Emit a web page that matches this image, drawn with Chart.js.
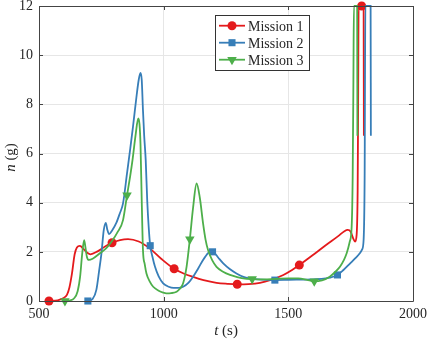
<!DOCTYPE html>
<html><head><meta charset="utf-8">
<script src="https://cdn.jsdelivr.net/npm/chart.js@4/dist/chart.umd.min.js"></script>
<style>html,body{margin:0;padding:0;background:#fff;} canvas{display:block;}</style>
</head><body>
<canvas id="c" width="427" height="341"></canvas>
<script>
// ---- tick labels / categories ----
const xTicks = [500, 1000, 1500, 2000];
const yTicks = [0, 2, 4, 6, 8, 10, 12];
const seriesNames = ['Mission 1', 'Mission 2', 'Mission 3'];
const xTitle = ['t', ' (s)'];
const yTitle = ['n', ' (g)'];

// ---- Mission 1 ----
const t1 = [540,575,595,612,622,632,643,652,664,680,695,706,735,765,793,825,857,900,944,990,1042,1080,1118,1160,1212,1255,1295,1340,1386,1430,1480,1515,1544,1600,1650,1700,1725,1738,1750,1760,1768,1774,1778,1780,1782,1794,1802,1803];
const n1 = [0,0.03,0.1,0.25,0.55,1.1,1.9,2.18,2.24,2.1,1.95,1.9,2.02,2.22,2.37,2.48,2.52,2.42,2.14,1.72,1.31,1.12,0.98,0.85,0.74,0.70,0.68,0.69,0.74,0.86,1.06,1.26,1.46,1.88,2.27,2.64,2.84,2.89,2.82,2.55,2.42,2.7,4.5,8,12,12,12,6.72];
const mk1T = [540,793,1042,1295,1544,1794];
const mk1N = [0,2.37,1.31,0.68,1.46,12];

// ---- Mission 2 ----
const t2 = [697,715,730,742,750,760,768,774,781,792,811,824,837,853,866,877,892,900,907,912,917,922,928,934,940,946,955,965,980,998,1020,1040,1060,1078,1100,1118,1140,1158,1178,1192,1200,1220,1239,1265,1292,1320,1346,1390,1446,1500,1550,1600,1650,1697,1720,1748,1770,1785,1796,1802,1806,1809,1830,1831];
const n2 = [0,0.08,0.45,1.3,1.9,2.9,3.18,2.9,2.72,2.85,3.2,3.56,3.97,5.19,6.2,7.09,8.4,9.0,9.28,9.0,7.76,6.7,5.73,4.1,3.0,2.25,1.8,1.4,1.0,0.72,0.58,0.53,0.53,0.58,0.75,0.99,1.35,1.67,1.95,2.04,2.0,1.75,1.53,1.3,1.12,0.98,0.92,0.87,0.85,0.86,0.87,0.88,0.92,1.06,1.25,1.53,1.75,1.92,2.1,2.5,5,12,12,6.72];
const mk2T = [696,946,1196,1446,1697];
const mk2N = [0,2.25,2.0,0.85,1.06];

// ---- Mission 3 ----
const t3 = [603,625,640,655,665,673,681,686,692,700,715,744,770,791,815,837,853,866,875,888,898,903,907,912,917,924,931,945,958,980,998,1011,1030,1052,1065,1078,1092,1105,1118,1132,1145,1158,1168,1178,1195,1212,1240,1266,1295,1319,1355,1400,1450,1500,1540,1575,1602,1635,1666,1690,1707,1722,1734,1746,1754,1758,1761,1763,1776,1777];
const n3 = [0,0.03,0.1,0.4,1.0,1.9,2.48,2.2,1.8,1.67,1.72,1.94,2.15,2.41,2.8,3.29,4.3,5.1,5.73,6.8,7.43,7.2,6.41,4.1,2.07,1.5,1.12,0.78,0.58,0.42,0.34,0.31,0.32,0.38,0.5,0.72,1.4,2.51,3.8,4.78,4.2,3.16,2.5,2.07,1.65,1.39,1.18,1.06,0.97,0.92,0.89,0.88,0.9,0.92,0.92,0.86,0.8,0.84,0.99,1.2,1.39,1.65,1.94,2.4,3.02,5.0,9,12,12,6.72];
const mk3T = [604,853,1105,1355,1604];
const mk3N = [0,4.3,2.51,0.89,0.8];

const colors = ['#e41a1c', '#377eb8', '#4daf4a'];
const styles = ['circle', 'rect', 'triangle'];
const radii = [4.5, 5, 5.5];
const rots = [0, 0, 180];

const zip = (a, b) => a.map((v, i) => ({x: v, y: b[i]}));
const lines = [[t1, n1], [t2, n2], [t3, n3]];
const marks = [[mk1T, mk1N], [mk2T, mk2N], [mk3T, mk3N]];

const FONT = '"Liberation Serif", "Times New Roman", serif';
const datasets = [];
for (let i = 0; i < 3; i++) {
  datasets.push({
    label: seriesNames[i], data: zip(lines[i][0], lines[i][1]), showLine: true,
    borderColor: colors[i], backgroundColor: colors[i], borderWidth: 1.8,
    pointRadius: 0, pointHoverRadius: 0, cubicInterpolationMode: 'monotone',
    clip: 8, order: 10 - 2 * i
  });
  datasets.push({
    label: seriesNames[i] + ' markers', data: zip(marks[i][0], marks[i][1]), showLine: false,
    borderColor: colors[i], backgroundColor: colors[i], pointStyle: styles[i],
    pointRadius: radii[i], pointRotation: rots[i], borderWidth: 0, clip: false, order: 9 - 2 * i
  });
}

function drawMarker(ctx, style, x, y, r, color) {
  ctx.save();
  ctx.fillStyle = color;
  ctx.beginPath();
  if (style === 'circle') { ctx.arc(x, y, r, 0, Math.PI * 2); }
  else if (style === 'rect') { const s = Math.SQRT1_2 * r; ctx.rect(x - s, y - s, 2 * s, 2 * s); }
  else {
    ctx.moveTo(x, y + r);
    ctx.lineTo(x - r * Math.sin(Math.PI / 3), y - r * 0.5);
    ctx.lineTo(x + r * Math.sin(Math.PI / 3), y - r * 0.5);
    ctx.closePath();
  }
  ctx.fill();
  ctx.restore();
}

const decor = {
  id: 'decor',
  afterDraw(chart) {
    const ctx = chart.ctx;
    const {left, right, top, bottom} = chart.chartArea;
    const xs = chart.scales.x, ys = chart.scales.y;
    ctx.save();
    ctx.strokeStyle = '#444';
    ctx.lineWidth = 1;
    ctx.beginPath();
    xTicks.forEach(v => {
      const px = Math.round(xs.getPixelForValue(v)) + 0.5;
      ctx.moveTo(px, bottom); ctx.lineTo(px, bottom - 4);
      ctx.moveTo(px, top); ctx.lineTo(px, top + 4);
    });
    yTicks.forEach(v => {
      const py = Math.round(ys.getPixelForValue(v)) + 0.5;
      ctx.moveTo(left, py); ctx.lineTo(left + 4, py);
      ctx.moveTo(right, py); ctx.lineTo(right - 4, py);
    });
    ctx.stroke();
    ctx.beginPath();
    ctx.rect(Math.round(left) + 0.5, Math.round(top) + 0.5, Math.round(right - left), Math.round(bottom - top));
    ctx.stroke();

    ctx.fillStyle = '#262626';
    ctx.textBaseline = 'alphabetic';
    ctx.font = 'italic 15px ' + FONT;
    const w0 = ctx.measureText(xTitle[0]).width;
    ctx.font = '15px ' + FONT;
    const w1 = ctx.measureText(xTitle[1]).width;
    let sx = (left + right) / 2 - (w0 + w1) / 2;
    ctx.font = 'italic 15px ' + FONT;
    ctx.fillText(xTitle[0], sx, 335);
    ctx.font = '15px ' + FONT;
    ctx.fillText(xTitle[1], sx + w0, 335);

    ctx.save();
    ctx.translate(15, (top + bottom) / 2 + 4);
    ctx.rotate(-Math.PI / 2);
    ctx.font = 'italic 15px ' + FONT;
    const v0 = ctx.measureText(yTitle[0]).width;
    ctx.font = '15px ' + FONT;
    const v1 = ctx.measureText(yTitle[1]).width;
    ctx.font = 'italic 15px ' + FONT;
    ctx.fillText(yTitle[0], -(v0 + v1) / 2, 0);
    ctx.font = '15px ' + FONT;
    ctx.fillText(yTitle[1], -(v0 + v1) / 2 + v0, 0);
    ctx.restore();

    const bx = 215.5, by = 15.5, bw = 94, bh = 55;
    ctx.fillStyle = '#fff';
    ctx.fillRect(bx, by, bw, bh);
    ctx.strokeStyle = '#333';
    ctx.strokeRect(bx, by, bw, bh);
    const rowsY = [25.7, 42.7, 59.7];
    ctx.font = '14px ' + FONT;
    for (let i = 0; i < 3; i++) {
      const y = rowsY[i];
      ctx.strokeStyle = colors[i];
      ctx.lineWidth = 1.8;
      ctx.beginPath(); ctx.moveTo(219, y); ctx.lineTo(245, y); ctx.stroke();
      drawMarker(ctx, styles[i], 232, y, radii[i], colors[i]);
      ctx.fillStyle = '#262626';
      ctx.fillText(seriesNames[i], 248, y + 5);
    }
    ctx.restore();
  }
};

new Chart(document.getElementById('c'), {
  type: 'scatter',
  data: {datasets},
  options: {
    responsive: false, animation: false, devicePixelRatio: 1,
    layout: {padding: {left: 0, right: 14, top: 6, bottom: 0}},
    plugins: {legend: {display: false}, tooltip: {enabled: false}},
    scales: {
      x: {
        type: 'linear', min: 500, max: 2000,
        afterBuildTicks: s => { s.ticks = xTicks.map(v => ({value: v})); },
        afterFit: s => { s.height = 40; s.paddingLeft = 0; s.paddingRight = 0; },
        ticks: {font: {family: FONT, size: 14}, color: '#262626', padding: 5, maxRotation: 0,
                callback: v => String(v)},
        grid: {color: '#e6e6e6', drawTicks: false, tickLength: 0},
        border: {display: false}
      },
      y: {
        min: 0, max: 12,
        afterBuildTicks: s => { s.ticks = yTicks.map(v => ({value: v})); },
        afterFit: s => { s.width = 39; s.paddingTop = 0; s.paddingBottom = 0; },
        ticks: {font: {family: FONT, size: 14}, color: '#262626', padding: 6,
                callback: v => String(v)},
        grid: {color: '#e6e6e6', drawTicks: false, tickLength: 0},
        border: {display: false}
      }
    }
  },
  plugins: [decor]
});
</script>
</body></html>
